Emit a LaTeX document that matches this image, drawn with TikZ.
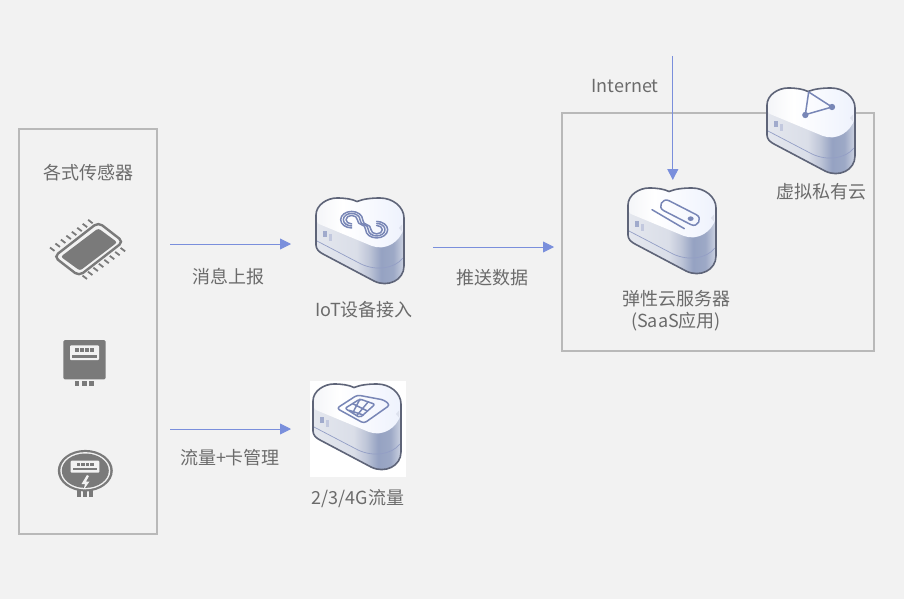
\documentclass[tikz,border=0pt]{standalone}
\usepackage{fontspec}
\setmainfont{Noto Sans CJK SC}
\usetikzlibrary{arrows.meta}
\definecolor{bgc}{HTML}{F2F2F2}
\definecolor{boxc}{HTML}{B9B9B9}
\definecolor{txt}{HTML}{6B6B6B}
\definecolor{arr}{HTML}{7A8FDC}
\definecolor{edge}{HTML}{5E6478}
\definecolor{ico}{HTML}{7886B6}
\definecolor{dev}{HTML}{7A7A7A}
\definecolor{sa}{HTML}{E4E7EE}
\definecolor{sb}{HTML}{DADEE8}
\definecolor{sc}{HTML}{BFC6D8}
\definecolor{sd}{HTML}{95A2C2}
\definecolor{se}{HTML}{9DA9C6}
\definecolor{sf}{HTML}{CDD3E2}
\definecolor{ta}{HTML}{F4F5F8}
\definecolor{tb}{HTML}{EEF2FD}
\pgfdeclarehorizontalshading{cloudside}{100bp}{
 color(0bp)=(sa); color(25bp)=(sa); color(48bp)=(sb);
 color(55bp)=(sc); color(62bp)=(sd); color(69bp)=(se); color(75bp)=(sf); color(100bp)=(sf)}
\pgfdeclarehorizontalshading{cloudtop}{100bp}{
 color(0bp)=(ta); color(25bp)=(ta); color(40bp)=(white); color(75bp)=(tb); color(100bp)=(tb)}
\tikzset{
 lbl/.style={text=txt,font=\fontsize{18}{22}\selectfont,align=center,inner sep=0pt},
 framebox/.style={draw=boxc,line width=2pt},
 flow/.style={draw=arr,line width=0.9pt,-{Triangle[length=11pt,width=11pt,fill=arr]}},
 icoline/.style={draw=ico,line width=1.5pt,line cap=round,line join=round},
 pics/cloudstack/.style={code={
  \shade[shading=cloudside] (0,17) .. controls (0,7) and (11,0) .. (21,0) .. controls (29,0) and (36,1) .. (41,3.5) .. controls (47,1) and (55,0) .. (64,0) .. controls (77,0) and (88,9) .. (88,20) -- (88,68) .. controls (88,82) and (72,90) .. (58,83) -- (7,56) .. controls (3,54) and (0,51) .. (0,47) -- cycle;
  \shade[shading=cloudtop] (0,17) .. controls (0,7) and (11,0) .. (21,0) .. controls (29,0) and (36,1) .. (41,3.5) .. controls (47,1) and (55,0) .. (64,0) .. controls (77,0) and (88,9) .. (88,20) -- (88,30) .. controls (84,44) and (70,53) .. (56,48) -- (3,26) .. controls (1,25) and (0,22) .. (0,17) -- cycle;
  \fill[ico!25!white] (83,30) -- (86,26.5) -- (86,33.5) -- cycle;
  \fill[ico!70!white] (6.5,33) rectangle (10.5,39);
  \fill[ico!45!white] (12.5,36) rectangle (16,43);
  \draw[ico!80!white,line width=0.7pt] (1,43) -- (45,66) .. controls (60,73) and (78,71) .. (87,60);
  \draw[edge,line width=1.6pt,line join=round] (0,17) .. controls (0,7) and (11,0) .. (21,0) .. controls (29,0) and (36,1) .. (41,3.5) .. controls (47,1) and (55,0) .. (64,0) .. controls (77,0) and (88,9) .. (88,20) -- (88,68) .. controls (88,82) and (72,90) .. (58,83) -- (7,56) .. controls (3,54) and (0,51) .. (0,47) -- cycle;
 }}
}
\begin{document}
\begin{tikzpicture}[x=1pt,y=-1pt]
\useasboundingbox (0,0) rectangle (904,599);
\fill[bgc] (0,0) rectangle (904,599);
% frames
\node[framebox,minimum width=138pt,minimum height=405pt,inner sep=0pt,anchor=north west] (sensors) at (18.2,128.3) {};
\node[framebox,minimum width=312pt,minimum height=238pt,inner sep=0pt,anchor=north west] (vpc) at (561.3,112.3) {};
\fill[white] (310,381) rectangle (406,477);
% clouds
\pic (iot) at (316,198) {cloudstack};
\begin{scope}[shift={(316,198)},shift={(-16,-13.33)},scale=1/3]
 \foreach \a/\c in {33/17,25/25,17/33} {
  \pgfmathsetmacro{\b}{.75*\a}
  \pgfmathsetmacro{\d}{.75*\c}
  \draw[icoline] (155,{105+\b})
   .. controls ({155-.55*\a},{105+\b}) and ({155-\a},{105+.55*\b}) .. ({155-\a},105)
   .. controls ({155-\a},{105-.55*\b}) and ({155-.55*\a},{105-\b}) .. (155,{105-\b})
   .. controls ({155+.55*\a},{105-\b}) and ({155+\a},{105-.55*\b}) .. ({155+\a},105)
   .. controls ({155+\a},125) and ({230-\c},115) .. ({230-\c},135)
   .. controls ({230-\c},{135+.55*\d}) and ({230-.55*\c},{135+\d}) .. (230,{135+\d})
   .. controls ({230+.55*\c},{135+\d}) and ({230+\c},{135+.55*\d}) .. ({230+\c},135)
   .. controls ({230+\c},{135-.55*\d}) and ({230+.55*\c},{135-\d}) .. (230,{135-\d});
 }
\end{scope}
\pic (sim) at (313,384) {cloudstack};
\begin{scope}[shift={(313,384)},shift={(-13,-9)},scale=1/3]
 \draw[icoline,rounded corners=3pt] (110,100) -- (172,60) -- (252,75) -- (270,90) -- (192,145) -- cycle;
 \draw[icoline,rounded corners=2pt] (135,100) -- (180,72) -- (225,88) -- (180,128) -- cycle;
 \draw[icoline] (158,86) -- (202,108) (180,72) -- (158,114) (205,80) -- (170,122);
 \draw[icoline] (148,106) -- (190,120);
\end{scope}
\pic (ecs) at (628,188) {cloudstack};
\begin{scope}[shift={(628,188)},shift={(-18.33,-18.33)},scale=1/3]
 \draw[icoline] (127,120) -- (224,177);
 \draw[icoline] (177.8,93) -- (259.8,135) .. controls (280,145) and (264,175) .. (244.2,165) -- (162.2,123) .. controls (142,113) and (158,83) .. (177.8,93) -- cycle;
 \fill[ico] (243,147) ellipse (9pt and 7pt);
\end{scope}
\pic (vp) at (767,88) {cloudstack};
\begin{scope}[shift={(767,88)},shift={(-16.67,-12.67)},scale=1/3]
 \draw[icoline] (175,50) -- (165,118) -- (245,95) -- cycle;
 \fill[ico] (165,119) circle (9.5pt) (245,95) circle (9.5pt);
\end{scope}
% chip
\foreach \i in {0,...,7} {
 \draw[dev,line width=1.8pt] ({50+\i*5.45},{247.5-\i*3.95}) -- ({50+\i*5.45+4.5},{247.5-\i*3.95+3.4});
 \draw[dev,line width=1.8pt] ({87+\i*5.45},{279-\i*3.95}) -- ({87+\i*5.45-4.5},{279-\i*3.95-3.4});
}
\draw[dev,line width=2.4pt,rounded corners=5pt] (54,256.7) -- (98.3,222.3) -- (123.3,241.7) -- (79,276) -- cycle;
\fill[dev,rounded corners=2.5pt] (60.7,256.7) -- (98.3,228.3) -- (117.3,242.3) -- (80,270.7) -- cycle;
% box meter
\fill[dev,rounded corners=1.5pt] (63.3,340) rectangle (105.7,379.3);
\fill[bgc,rounded corners=1pt] (70,345.3) rectangle (99,360);
\foreach \i in {0,1,2,3} \fill[dev] ({74.5+\i*5},348.3) rectangle ({78.5+\i*5},352.3);
\fill[dev] (72.3,355) rectangle (96.7,357.7);
\foreach \i in {0,1,2} \fill[dev] ({75+\i*7.2},380.7) rectangle ({79.3+\i*7.2},386);
% round meter
\foreach \i in {0,1,2} \fill[dev] ({76.7+\i*6.2},490) rectangle ({80.8+\i*6.2},496.5);
\fill[dev] (85.3,470.7) ellipse (27.5pt and 20.8pt);
\fill[bgc] (85.3,470.7) ellipse (25pt and 18.6pt);
\fill[dev] (85.3,470.7) ellipse (23.5pt and 17.2pt);
\fill[bgc,rounded corners=1pt] (70.7,460.7) rectangle (99.3,472.7);
\foreach \i in {0,1,2,3} \fill[dev] ({76.5+\i*4.6},462.8) rectangle ({80+\i*4.6},466.2);
\fill[dev] (73,468.3) rectangle (97,470.3);
\fill[bgc] (87,475) -- (81.5,484) -- (85,484) -- (83.5,490) -- (89.5,481.5) -- (86,481.5) -- (89,476) -- cycle;
% labels
\node[lbl] (lsens) at (88.5,172.5) {各式传感器};
\node[lbl] (lrep) at (228.5,276.5) {消息上报};
\node[lbl] (liot) at (364,310) {IoT设备接入};
\node[lbl] (lpush) at (492,277.5) {推送数据};
\node[lbl] (lecs) at (676,311) {弹性云服务器\\(SaaS应用)};
\node[lbl] (lvp) at (821,191.5) {虚拟私有云};
\node[lbl] (lflow) at (230,457.5) {流量+卡管理};
\node[lbl] (lsim) at (358,498.5) {2/3/4G流量};
\node[lbl] (lnet) at (625,86) {Internet};
% connectors
\coordinate (a1) at (170,244); \coordinate (a1e) at (291,244);
\coordinate (a2) at (433,247); \coordinate (a2e) at (554,247);
\coordinate (a3) at (170,429); \coordinate (a3e) at (291,429);
\coordinate (a4) at (672.8,56);  \coordinate (a4e) at (672.8,180);
\draw[flow] (a1) -- (a1e);
\draw[flow] (a2) -- (a2e);
\draw[flow] (a3) -- (a3e);
\draw[flow] (a4) -- (a4e);
\end{tikzpicture}
\end{document}
